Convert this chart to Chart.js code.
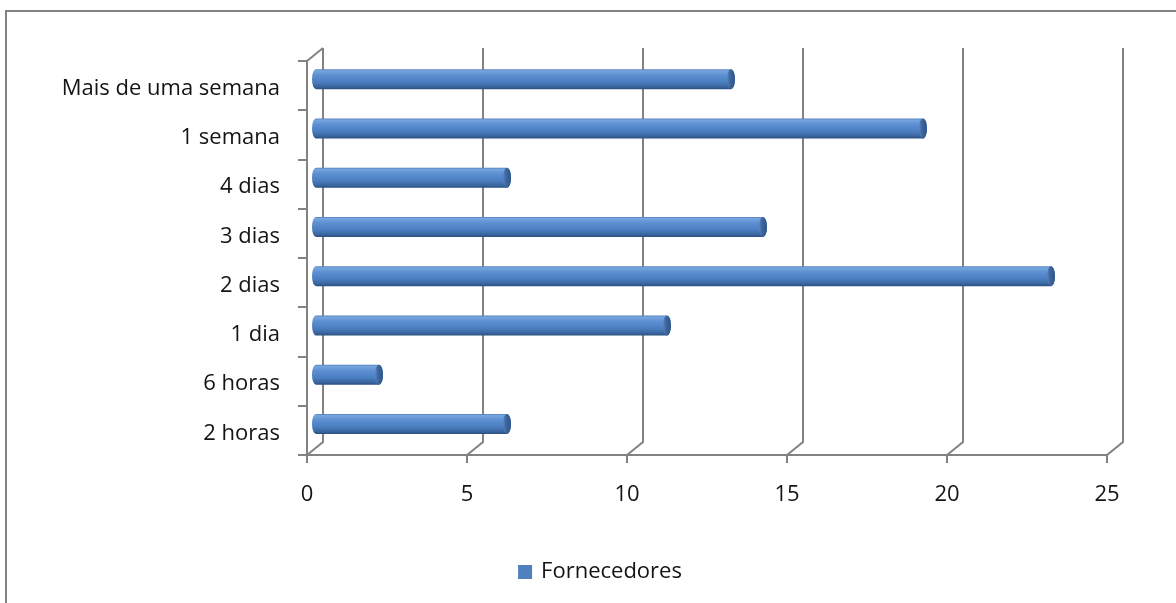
<!DOCTYPE html>
<html>
<head>
<meta charset="utf-8">
<script src="https://cdn.jsdelivr.net/npm/chart.js@4/dist/chart.umd.min.js"></script>
<style>
  html, body { margin: 0; padding: 0; background: #ffffff; }
  #wrap { width: 1176px; height: 603px; position: relative; }
</style>
</head>
<body>
<div id="wrap"><canvas id="chart" width="1176" height="603"></canvas></div>
<script>
// Categories (top to bottom) and series values
const categories = ['Mais de uma semana', '1 semana', '4 dias', '3 dias', '2 dias', '1 dia', '6 horas', '2 horas'];
const fornecedores = [13, 19, 6, 14, 23, 11, 2, 6];
const seriesLabel = 'Fornecedores';
const xTicks = [0, 5, 10, 15, 20, 25];

const FONT = '"Open Sans", "Liberation Sans", sans-serif';
const FONT_SIZE = 22;
const TEXT = '#141414';
const LINE = '#828282';
const SERIES_COLOR = '#4F81BD';

// depth of the 3D box: back wall offset from the front plane
const DEPTH_X = 16, DEPTH_Y = -13;

const box3d = {
  id: 'box3d',
  beforeDraw(chart) {
    const ctx = chart.ctx;
    ctx.save();
    ctx.fillStyle = '#ffffff';
    ctx.fillRect(0, 0, chart.width, chart.height);
    // outer frame (left and top edges)
    ctx.strokeStyle = LINE;
    ctx.lineWidth = 2;
    ctx.beginPath();
    ctx.moveTo(6, chart.height);
    ctx.lineTo(6, 11);
    ctx.lineTo(chart.width, 11);
    ctx.stroke();
    ctx.restore();
  },
  beforeDatasetsDraw(chart) {
    const ctx = chart.ctx;
    const xs = chart.scales.x;
    const a = chart.chartArea;
    ctx.save();
    ctx.strokeStyle = LINE;
    ctx.lineWidth = 2;
    // back wall gridlines and floor diagonals
    xs.ticks.forEach(t => {
      const xf = xs.getPixelForValue(t.value);
      ctx.beginPath();
      ctx.moveTo(xf + DEPTH_X, a.top + DEPTH_Y);
      ctx.lineTo(xf + DEPTH_X, a.bottom + DEPTH_Y);
      ctx.lineTo(xf, a.bottom);
      ctx.stroke();
    });
    // side wall top edge
    ctx.beginPath();
    ctx.moveTo(a.left, a.top);
    ctx.lineTo(a.left + DEPTH_X, a.top + DEPTH_Y);
    ctx.stroke();

    // cylinders, placed at mid depth
    const meta = chart.getDatasetMeta(0);
    meta.data.forEach(el => {
      const p = el.getProps(['x', 'y', 'base', 'height'], true);
      const x0 = p.base + DEPTH_X / 2;
      const x1 = p.x + DEPTH_X / 2;
      const cy = p.y + DEPTH_Y / 2;
      const r = p.height / 2;
      const rx = 4;
      const g = ctx.createLinearGradient(0, cy - r, 0, cy + r);
      g.addColorStop(0, '#4C7AB8');
      g.addColorStop(0.08, '#78A5DE');
      g.addColorStop(0.3, '#5D90D2');
      g.addColorStop(0.65, '#4B7EC0');
      g.addColorStop(0.88, '#3A669F');
      g.addColorStop(1, '#2C4F80');
      ctx.beginPath();
      ctx.moveTo(x0, cy - r);
      ctx.lineTo(x1, cy - r);
      ctx.ellipse(x1, cy, rx, r, 0, -Math.PI / 2, Math.PI / 2);
      ctx.lineTo(x0, cy + r);
      ctx.ellipse(x0, cy, rx, r, 0, Math.PI / 2, Math.PI * 1.5);
      ctx.closePath();
      ctx.fillStyle = g;
      ctx.fill();
      // end cap
      const gc = ctx.createLinearGradient(x1 - rx, 0, x1 + rx, 0);
      gc.addColorStop(0, '#5A86BF');
      gc.addColorStop(0.35, '#3E679F');
      gc.addColorStop(1, '#2F5587');
      ctx.beginPath();
      ctx.ellipse(x1, cy, rx, r, 0, 0, Math.PI * 2);
      ctx.fillStyle = gc;
      ctx.fill();
    });
    ctx.restore();
    return false;
  },
  afterDraw(chart) {
    // legend
    const ctx = chart.ctx;
    const ds = chart.data.datasets[0];
    ctx.save();
    ctx.font = FONT_SIZE + 'px ' + FONT;
    const tw = ctx.measureText(ds.label).width;
    const sq = 14, gap = 9;
    const total = sq + gap + tw;
    const left = 600 - total / 2;
    const cy = 572;
    ctx.fillStyle = ds.backgroundColor;
    ctx.fillRect(left, cy - sq / 2, sq, sq);
    ctx.fillStyle = TEXT;
    ctx.textBaseline = 'middle';
    ctx.textAlign = 'left';
    ctx.fillText(ds.label, left + sq + gap, cy);
    ctx.restore();
  }
};

new Chart(document.getElementById('chart'), {
  type: 'bar',
  data: {
    labels: categories,
    datasets: [{
      label: seriesLabel,
      data: fornecedores,
      backgroundColor: SERIES_COLOR,
      barThickness: 20
    }]
  },
  options: {
    indexAxis: 'y',
    responsive: false,
    animation: false,
    layout: { padding: { left: 0, top: 61, right: 69, bottom: 0 } },
    plugins: { legend: { display: false }, tooltip: { enabled: false } },
    scales: {
      x: {
        min: 0, max: 25,
        afterBuildTicks(s) { s.ticks = xTicks.map(v => ({ value: v })); },
        afterFit(s) { s.height = 148; },
        ticks: { stepSize: 5, color: TEXT, padding: 19, font: { family: FONT, size: FONT_SIZE } },
        grid: { drawOnChartArea: false, drawTicks: true, tickLength: 8, color: LINE, lineWidth: 2 },
        border: { display: true, color: LINE, width: 2 }
      },
      y: {
        afterFit(s) { s.width = 307; },
        ticks: { color: TEXT, padding: 18, labelOffset: 3, font: { family: FONT, size: FONT_SIZE } },
        grid: { offset: true, drawOnChartArea: false, drawTicks: true, tickLength: 9, color: LINE, lineWidth: 2 },
        border: { display: true, color: LINE, width: 2 }
      }
    }
  },
  plugins: [box3d]
});
</script>
</body>
</html>
